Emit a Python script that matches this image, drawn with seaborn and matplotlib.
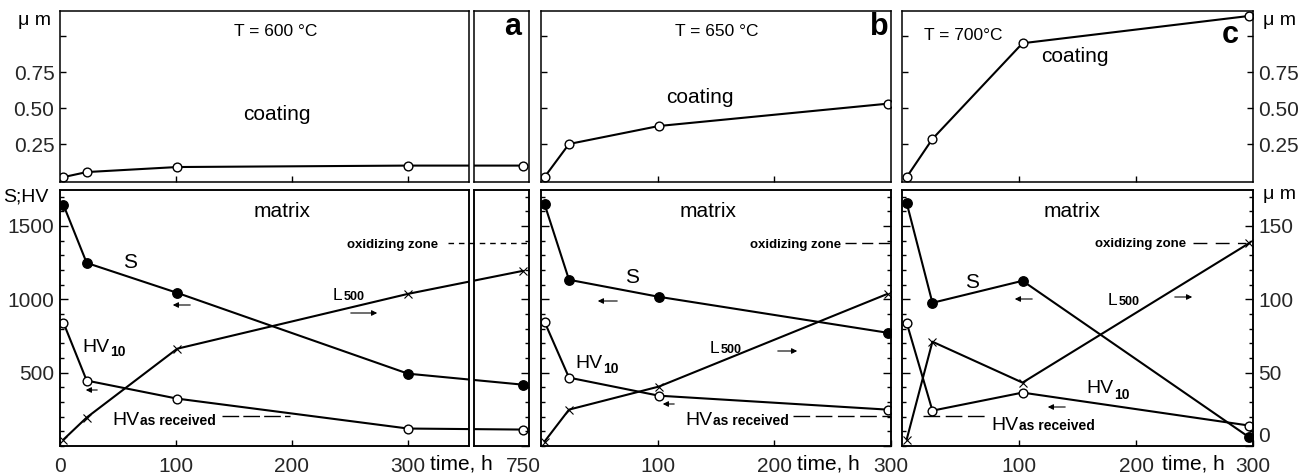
import numpy as np
import matplotlib
matplotlib.use("Agg")
import matplotlib.pyplot as plt
from matplotlib.ticker import FixedLocator, MultipleLocator, NullLocator
from matplotlib.patches import FancyArrowPatch
import seaborn as sns

# ---------------- data ----------------
time_a = [3, 23, 101, 300, 750]
time_b = [3, 24, 101, 297]
time_c = [4, 26, 103, 297]

coating_a = [0.02, 0.055, 0.09, 0.10, 0.10]
coating_b = [0.02, 0.25, 0.375, 0.53]
coating_c = [0.02, 0.285, 0.95, 1.14]

S_a = [1643, 1248, 1044, 493, 418]
S_b = [1650, 1133, 1017, 772]
S_c = [1657, 976, 1126, 58]

HV10_a = [840, 446, 323, 119, 112]
HV10_b = [847, 466, 343, 248]
HV10_c = [840, 241, 364, 139]

L500_a = [4.4, 19.4, 66.3, 103.7, 119.4]
L500_b = [3.0, 24.8, 40.5, 103.7]
L500_c = [4.4, 71.1, 43.2, 138.4]

HV_as_received = 205
oxidizing_zone = 138.4

temperature_labels = ["T = 600 °C", "T = 650 °C", "T = 700°C"]
panel_letters = ["a", "b", "c"]
coat_ticks = [0.25, 0.50, 0.75, 1.0]
coat_ticklabels = ["0.25", "0.50", "0.75", ""]
hv_ticks = [500, 1000, 1500]
um_ticks = [0, 50, 100, 150]

# ---------------- style ----------------
sns.set_theme(style="ticks")
plt.rcParams["font.family"] = ["Liberation Sans", "DejaVu Sans"]
plt.rcParams["axes.linewidth"] = 1.1

W, H = 1306, 475
fig = plt.figure(figsize=(W / 100, H / 100), dpi=100)
fig.patch.set_facecolor("white")

TOP = (11, 182)
BOT = (190, 446)


def add_ax(x0, x1, y0, y1):
    ax = fig.add_axes([x0 / W, 1 - y1 / H, (x1 - x0) / W, (y1 - y0) / H])
    ax.set_facecolor("none")
    for s in ax.spines.values():
        s.set_linewidth(1.1)
        s.set_color("black")
    return ax


# broken time axis for panel a (continuous compressed scale beyond 350 h)
K = 0.1228


def fwd(t):
    t = np.asarray(t, dtype=float)
    return np.where(t <= 350, t, 350 + (t - 350) * K)


def inv(u):
    u = np.asarray(u, dtype=float)
    return np.where(u <= 350, u, 350 + (u - 350) / K)


LW = 1.5


def plot_line(ax, t, v, kind):
    if kind == "open":
        m = dict(marker="o", ms=6.3, mfc="white", mec="black", mew=1.0)
    elif kind == "filled":
        m = dict(marker="o", ms=6.8, mfc="black", mec="black", mew=1.0)
    else:
        m = dict(marker="x", ms=5.5, mec="black", mew=0.8)
    sns.lineplot(x=t, y=v, ax=ax, color="black", lw=LW, estimator=None,
                 sort=False, legend=False, **m)


# ---------------- axes ----------------
cols = {"a": (60, 469), "ab": (474, 529), "b": (541, 891), "c": (902, 1253)}
tops, bots, twins = {}, {}, {}
for k, (x0, x1) in cols.items():
    tops[k] = add_ax(x0, x1, *TOP)
    bots[k] = add_ax(x0, x1, *BOT)
    tw = bots[k].twinx()
    for s in tw.spines.values():
        s.set_linewidth(1.1)
        s.set_color("black")
    twins[k] = tw

series = {
    "a": (time_a, coating_a, S_a, HV10_a, L500_a),
    "ab": (time_a, coating_a, S_a, HV10_a, L500_a),
    "b": (time_b, coating_b, S_b, HV10_b, L500_b),
    "c": (time_c, coating_c, S_c, HV10_c, L500_c),
}
for k, (t, coat, S, HV, L) in series.items():
    plot_line(tops[k], t, coat, "open")
    plot_line(bots[k], t, S, "filled")
    plot_line(bots[k], t, HV, "open")
    plot_line(twins[k], t, L, "x")

# scales and limits
for k in ["a", "ab"]:
    tops[k].set_xscale("function", functions=(fwd, inv))
    bots[k].set_xscale("function", functions=(fwd, inv))
xl_a = (0, float(inv(352.6)))
xl_ab = (float(inv(356.9)), float(inv(404.3)))
for k, xl in [("a", xl_a), ("ab", xl_ab), ("b", (0, 300)), ("c", (0, 300))]:
    tops[k].set_xlim(*xl)
    bots[k].set_xlim(*xl)
    tops[k].set_ylim(-0.014, 1.174)
    bots[k].set_ylim(0, 1745)
    twins[k].set_ylim(0, 174.5)

# reference lines
twins["a"].hlines(oxidizing_zone, 334.5, float(inv(402.6)), colors="black",
                  lw=1.0, linestyles=(0, (4, 3.5)), clip_on=False)
twins["b"].hlines(oxidizing_zone, 260.6, 300, colors="black", lw=1.0,
                  linestyles=(0, (8, 4)))
twins["c"].hlines(oxidizing_zone, 248.6, 294, colors="black", lw=1.0,
                  linestyles=(0, (10, 6)))
bots["a"].hlines(HV_as_received, 139.7, 198, colors="black", lw=1.0,
                 linestyles=(0, (12, 3)))
bots["b"].hlines(HV_as_received, 216, 300, colors="black", lw=1.0,
                 linestyles=(0, (12, 4)))
bots["c"].hlines(HV_as_received, 18, 73, colors="black", lw=1.0,
                 linestyles=(0, (12, 4)))

# ---------------- ticks ----------------
TL = 15
for k in cols:
    ax = tops[k]
    ax.yaxis.set_major_locator(FixedLocator(coat_ticks))
    ax.set_yticklabels(coat_ticklabels)
    ax.yaxis.set_minor_locator(NullLocator())
    ax.xaxis.set_minor_locator(NullLocator())
    xt = [100, 200, 300] if k == "a" else ([] if k == "ab" else [100, 200])
    ax.xaxis.set_major_locator(FixedLocator(xt))
    ax.tick_params(axis="x", which="both", direction="in", bottom=True, top=False,
                   labelbottom=False, length=4, width=1, color="black")
    ax.tick_params(axis="y", which="both", direction="in",
                   left=(k in ["a", "b", "c"]), right=(k == "c"),
                   labelleft=(k == "a"), labelright=(k == "c"),
                   length=4, width=1, labelsize=TL, pad=4, color="black")

for k in cols:
    ax, tw = bots[k], twins[k]
    ax.yaxis.set_major_locator(FixedLocator(hv_ticks))
    ax.yaxis.set_minor_locator(MultipleLocator(100))
    left = k in ["a", "b", "c"]
    ax.tick_params(axis="y", which="major", direction="in", left=left, right=False,
                   labelleft=(k == "a"), labelright=False, length=6, width=1,
                   labelsize=TL, pad=4, color="black")
    ax.tick_params(axis="y", which="minor", direction="in", left=left, right=False,
                   length=3, width=1, color="black")
    tw.yaxis.set_major_locator(FixedLocator(um_ticks))
    tw.yaxis.set_minor_locator(MultipleLocator(10))
    right = k in ["ab", "b", "c"]
    tw.tick_params(axis="y", which="major", direction="in", right=right, left=False,
                   labelright=(k == "c"), labelleft=False, length=6, width=1,
                   labelsize=TL, pad=4, color="black")
    tw.tick_params(axis="y", which="minor", direction="in", right=right, left=False,
                   length=3, width=1, color="black")
    ax.xaxis.set_minor_locator(NullLocator())
    if k == "a":
        xt, xlab = [0, 100, 200, 300], ["0", "100", "200", "300"]
    elif k == "ab":
        xt, xlab = [750], ["750"]
    else:
        xt, xlab = [100, 200, 300], ["100", "200", "300"]
    ax.xaxis.set_major_locator(FixedLocator(xt))
    ax.set_xticklabels(xlab)
    ax.tick_params(axis="x", which="both", direction="in", bottom=True, top=False,
                   labelbottom=True, length=(0 if k == "ab" else 4), width=1,
                   labelsize=TL, pad=8, color="black")

# ---------------- texts ----------------
def ptext(px, py, s, size=15, weight="normal", ha="left", va="baseline"):
    fig.text(px / W, 1 - py / H, s, fontsize=size, fontweight=weight,
             ha=ha, va=va, color="black")


def parrow(x_from, x_to, py):
    fig.add_artist(FancyArrowPatch((x_from / W, 1 - py / H), (x_to / W, 1 - py / H),
                                   transform=fig.transFigure, arrowstyle="-|>",
                                   mutation_scale=8, lw=0.8, color="black"))


HVW = 27  # pixel width of "HV" at 14 pt


def hv_label(px, py, sub, sub_dy, sub_size):
    ptext(px, py, "HV", 14)
    ptext(px + HVW + 1, py + sub_dy, sub, sub_size, "bold")


def l_label(px, py):
    ptext(px, py, "L", 12.5)
    ptext(px + 10.5, py, "500", 9, "bold")


# panel a
ptext(276, 36, temperature_labels[0], 12.5, ha="center")
ptext(277, 120, "coating", 15, ha="center")
ptext(282, 217, "matrix", 15, ha="center")
ptext(513, 35, panel_letters[0], 22, "bold", ha="center")
ptext(123, 268, "S", 15)
l_label(333, 300)
hv_label(82, 352, "10", 4, 10)
hv_label(112, 425, "as received", 0, 10)
ptext(347, 248, "oxidizing zone", 9.5, "bold")
parrow(193, 170, 305)
parrow(348, 380, 313)
parrow(100, 83, 390)
ptext(18, 25, "μ m", 14)
ptext(3, 202, "S;HV", 14)
ptext(461, 464, "time, h", 15, ha="center", va="center")

# panel b
ptext(717, 36, temperature_labels[1], 12.5, ha="center")
ptext(700, 103, "coating", 15, ha="center")
ptext(879, 35, panel_letters[1], 22, "bold", ha="center")
ptext(708, 217, "matrix", 15, ha="center")
ptext(625, 283, "S", 15)
parrow(620, 595, 301)
l_label(710, 353)
parrow(775, 800, 351)
hv_label(575, 368, "10", 5, 10)
parrow(677, 660, 404)
hv_label(685, 425, "as received", 0, 10)
ptext(750, 248, "oxidizing zone", 9.5, "bold")
ptext(828, 464, "time, h", 15, ha="center", va="center")

# panel c
ptext(963, 40, temperature_labels[2], 12.5, ha="center")
ptext(1075, 62, "coating", 15, ha="center")
ptext(1230, 43, panel_letters[2], 22, "bold", ha="center")
ptext(1263, 25, "μ m", 14)
ptext(1263, 199, "μ m", 14)
ptext(1072, 217, "matrix", 15, ha="center")
ptext(965, 288, "S", 15)
parrow(1035, 1012, 299)
l_label(1108, 305)
parrow(1172, 1195, 297)
hv_label(1086, 393, "10", 6, 10)
parrow(1068, 1045, 407)
hv_label(991, 430, "as received", 0, 10)
ptext(1095, 247, "oxidizing zone", 9.5, "bold")
ptext(1193, 464, "time, h", 15, ha="center", va="center")

# lift the "0" label of the right µm axis like in the reference
lbls = twins["c"].get_yticklabels()
if lbls:
    lbls[0].set_verticalalignment("bottom")

fig.savefig("out.png", dpi=100, facecolor="white")
